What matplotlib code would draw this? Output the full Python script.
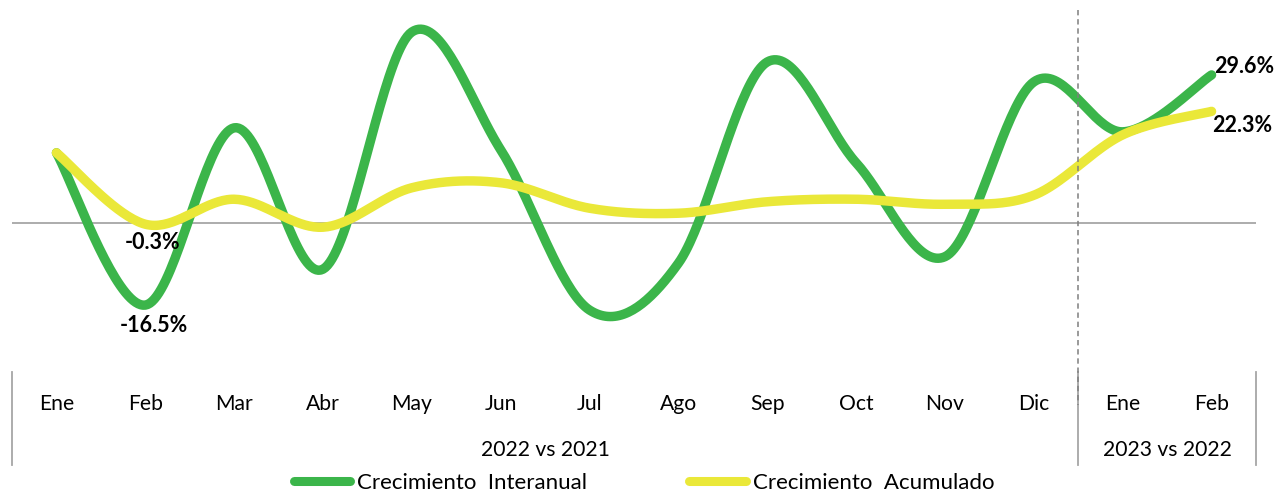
import numpy as np
import matplotlib
matplotlib.use('Agg')
import matplotlib.pyplot as plt
from matplotlib.transforms import blended_transform_factory
from matplotlib.lines import Line2D

plt.rcParams['font.family'] = ['Lato', 'DejaVu Sans']

# ---------------- data ----------------
months = ['Ene', 'Feb', 'Mar', 'Abr', 'May', 'Jun', 'Jul', 'Ago', 'Sep', 'Oct', 'Nov', 'Dic', 'Ene', 'Feb']
groups = ['2022 vs 2021', '2023 vs 2022']
group_sizes = [12, 2]
interanual = [14.0, -16.5, 19.0, -9.3, 38.2, 14.6, -17.5, -8.1, 32.2, 12.0, -6.8, 28.2, 18.2, 29.6]
acumulado = [14.0, -0.3, 4.7, -0.9, 7.0, 8.0, 2.9, 1.9, 4.2, 4.7, 3.7, 5.5, 17.6, 22.3]
series_names = ['Crecimiento  Interanual', 'Crecimiento  Acumulado']

GREEN = '#3BB54A'
YELLOW = '#EAE839'
GRAY = '#A6A6A6'


def smooth(xs, ys, n=40):
    """Excel-style smoothed line (cubic Bezier, Catmull-Rom control points)."""
    P = np.column_stack([xs, ys]).astype(float)
    Pe = np.vstack([P[0], P, P[-1]])
    out = []
    t = np.linspace(0, 1, n)[:, None]
    for i in range(len(P) - 1):
        p0, p1, p2, p3 = Pe[i], Pe[i + 1], Pe[i + 2], Pe[i + 3]
        c1 = p1 + (p2 - p0) / 6.0
        c2 = p2 - (p3 - p1) / 6.0
        seg = (1 - t) ** 3 * p1 + 3 * (1 - t) ** 2 * t * c1 + 3 * (1 - t) * t ** 2 * c2 + t ** 3 * p2
        out.append(seg if i == 0 else seg[1:])
    return np.vstack(out)


W, H = 1278, 493
fig = plt.figure(figsize=(W / 100, H / 100), dpi=100)
ax = fig.add_axes([12 / W, 1 - 372 / H, 1244 / W, 360 / H])
ax.set_xlim(-0.5, len(months) - 0.5)
ax.set_ylim(-29.9, 42.2)
ax.axis('off')

x = np.arange(len(months))
ax.axhline(0, color=GRAY, lw=1.3, zorder=1)

for vals, col in [(interanual, GREEN), (acumulado, YELLOW)]:
    s = smooth(x, vals)
    ax.plot(s[:, 0], s[:, 1], color=col, lw=6.8, solid_capstyle='round', zorder=3)

# data labels
lbl = dict(textcoords='offset points', va='center', fontsize=15.5, fontweight='bold', zorder=5)
ax.annotate(f'{interanual[1]:.1f}%', (x[1], interanual[1]), xytext=(6, -15), ha='center', **lbl)
ax.annotate(f'{acumulado[1]:.1f}%', (x[1], acumulado[1]), xytext=(5, -13), ha='center', **lbl)
ax.annotate(f'{interanual[13]:.1f}%', (x[13], interanual[13]), xytext=(2, 6), ha='left', **lbl)
ax.annotate(f'{acumulado[13]:.1f}%', (x[13], acumulado[13]), xytext=(0.5, -10), ha='left', **lbl)

# multi-level category axis
tr = blended_transform_factory(ax.transData, fig.transFigure)
def fy(px):
    return 1 - px / H

for i, m in enumerate(months):
    fig.text(x[i], fy(404), m, transform=tr, ha='center', va='center', fontsize=15.2)

bounds = np.concatenate([[0], np.cumsum(group_sizes)]) - 0.5
for g, (a, b) in zip(groups, zip(bounds[:-1], bounds[1:])):
    fig.text((a + b) / 2, fy(450), g, transform=tr, ha='center', va='center', fontsize=15.2)
for bx in bounds:
    fig.add_artist(Line2D([bx, bx], [fy(372), fy(465)], transform=tr, color=GRAY, lw=1.3))

# dashed separator between years
fig.add_artist(Line2D([bounds[1], bounds[1]], [fy(10), fy(405)], transform=tr, color='#7F7F7F',
                      lw=1.1, ls=(0, (3.5, 2.5))))

handles = [Line2D([], [], color=GREEN, lw=6.5, solid_capstyle='round'),
           Line2D([], [], color=YELLOW, lw=6.5, solid_capstyle='round')]
fig.legend(handles, series_names, loc='center', bbox_to_anchor=(644 / W, fy(483)), ncol=2,
           frameon=False, fontsize=16, handlelength=2.55, handletextpad=0.3, columnspacing=4.6,
           borderpad=0)

fig.savefig('out.png', dpi=100)
